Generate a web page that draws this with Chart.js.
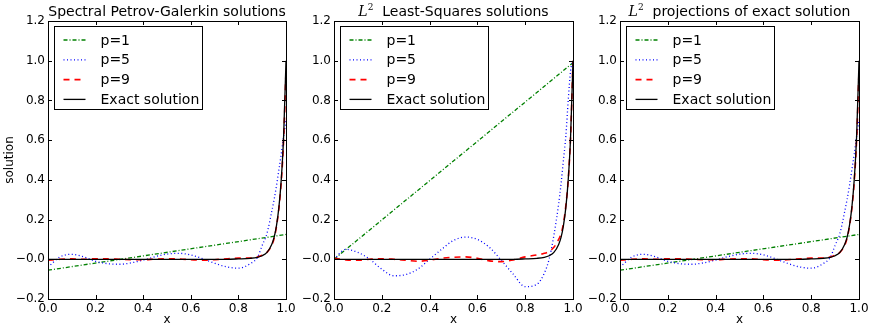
<!DOCTYPE html>
<html>
<head>
<meta charset="utf-8">
<script src="https://cdn.jsdelivr.net/npm/chart.js@4.4.0/dist/chart.umd.min.js"></script>
<style>
  body { margin: 0; background: #fff; }
  #wrap { position: relative; width: 872px; height: 327px; overflow: hidden; }
  canvas { position: absolute; top: 0; }
</style>
</head>
<body>
<div id="wrap">
  <canvas id="c1" width="296" height="327" style="left:0px"></canvas>
  <canvas id="c2" width="296" height="327" style="left:290px"></canvas>
  <canvas id="c3" width="296" height="327" style="left:576px"></canvas>
</div>
<script>
// shared sample points (denser near the boundary layer at x=1)
const xs = [0, 0.05, 0.1, 0.15, 0.2, 0.25, 0.3, 0.35, 0.4, 0.45, 0.5, 0.55, 0.6, 0.65, 0.7, 0.75, 0.8, 0.85, 0.88, 0.9, 0.92, 0.94, 0.95, 0.96, 0.97, 0.98, 0.99, 1.0];
const lineX = [0, 1];

const exact = [0, 0, 0, 0, 0, 0, 0, 0, 0, 0, 0, 0, 0, 0, 0, 0, 0.002, 0.005, 0.01, 0.018, 0.035, 0.075, 0.11, 0.17, 0.26, 0.40, 0.62, 1.0];

// Spectral Petrov-Galerkin
const spgP1 = [-0.055, 0.125];
const spgP5 = [-0.04, 0.012, 0.025, 0.012, -0.01, -0.022, -0.025, -0.018, -0.004, 0.013, 0.026, 0.03, 0.022, 0.003, -0.02, -0.038, -0.045, -0.022, 0.01, 0.07, 0.13, 0.24, 0.3, 0.37, 0.45, 0.53, 0.62, 0.7];
const spgP9 = [-0.005, 0.0, 0.002, 0.0, 0.003, 0.002, 0.0, -0.002, -0.002, 0.001, 0.003, 0.002, -0.002, -0.005, -0.002, 0.002, 0.006, 0.006, 0.012, 0.02, 0.035, 0.07, 0.105, 0.165, 0.255, 0.39, 0.6, 0.95];

// Least-Squares
const lsP1 = [0.0, 0.99];
const lsP5 = [0.0, 0.05, 0.035, 0.0, -0.05, -0.083, -0.077, -0.05, 0.0, 0.05, 0.095, 0.112, 0.1, 0.06, -0.005, -0.075, -0.138, -0.125, -0.07, 0.0, 0.12, 0.28, 0.38, 0.5, 0.62, 0.8, 0.95, 1.0];
const lsP9 = [0.005, -0.003, -0.005, 0.0, 0.003, 0.0, -0.005, -0.01, -0.005, 0.005, 0.01, 0.012, 0.005, -0.008, -0.012, -0.003, 0.012, 0.022, 0.03, 0.04, 0.06, 0.1, 0.13, 0.18, 0.27, 0.4, 0.62, 1.0];

// L2 projections
const projP1 = [-0.055, 0.125];
const projP5 = [-0.04, 0.012, 0.025, 0.012, -0.01, -0.022, -0.025, -0.018, -0.004, 0.013, 0.026, 0.03, 0.022, 0.003, -0.02, -0.038, -0.045, -0.022, 0.01, 0.07, 0.13, 0.24, 0.3, 0.37, 0.45, 0.53, 0.62, 0.7];
const projP9 = [-0.005, 0.0, 0.002, 0.0, 0.003, 0.002, 0.0, -0.002, -0.002, 0.001, 0.003, 0.002, -0.002, -0.005, -0.002, 0.002, 0.006, 0.006, 0.012, 0.02, 0.035, 0.07, 0.105, 0.165, 0.255, 0.39, 0.6, 0.95];

const legendLabels = ['p=1', 'p=5', 'p=9', 'Exact solution'];

Chart.defaults.font.family = '"DejaVu Sans", sans-serif';
Chart.defaults.color = '#000';

const pts = (x, y) => x.map((v, i) => ({ x: v, y: y[i] }));
const fmt = v => { const s = Number(v).toFixed(1); return s.startsWith('-') ? '\u2212' + s.slice(1) : s; };

// frame + inward ticks on all four sides, legend box inside the axes, and the title
const axesDeco = {
    id: 'axesDeco',
    afterDraw(chart, args, opts) {
        const ctx = chart.ctx;
        const a = chart.chartArea;
        const xS = chart.scales.x, yS = chart.scales.y;
        ctx.save();
        ctx.strokeStyle = '#000';
        ctx.lineWidth = 1;
        ctx.strokeRect(Math.round(a.left) + 0.5, Math.round(a.top) + 0.5, Math.round(a.right - a.left), Math.round(a.bottom - a.top));
        ctx.beginPath();
        xS.ticks.forEach(t => {
            const px = Math.round(xS.getPixelForValue(t.value)) + 0.5;
            ctx.moveTo(px, a.bottom); ctx.lineTo(px, a.bottom - 4);
            ctx.moveTo(px, a.top); ctx.lineTo(px, a.top + 4);
        });
        yS.ticks.forEach(t => {
            const py = Math.round(yS.getPixelForValue(t.value)) + 0.5;
            ctx.moveTo(a.left, py); ctx.lineTo(a.left + 4, py);
            ctx.moveTo(a.right, py); ctx.lineTo(a.right - 4, py);
        });
        ctx.stroke();

        // legend
        const lx = Math.round(a.left) + 6.5, ly = Math.round(a.top) + 5.5;
        ctx.fillStyle = '#fff';
        ctx.fillRect(lx, ly, 148, 83);
        ctx.strokeRect(lx, ly, 148, 83);
        ctx.font = '14px "DejaVu Sans"';
        ctx.textBaseline = 'middle';
        chart.data.datasets.forEach((ds, i) => {
            const y = ly + 13.5 + i * 19.8;
            ctx.beginPath();
            ctx.strokeStyle = ds.borderColor;
            ctx.lineWidth = ds.borderWidth;
            ctx.setLineDash(ds.borderDash || []);
            ctx.moveTo(lx + 9, y); ctx.lineTo(lx + 31, y);
            ctx.stroke();
            ctx.setLineDash([]);
            ctx.fillStyle = '#000';
            ctx.fillText(legendLabels[i], lx + 46, y + 1);
        });

        // title (with optional math prefix)
        const parts = opts.parts;
        let w = 0;
        parts.forEach(p => { ctx.font = p.font; w += ctx.measureText(p.text).width; });
        let x = (a.left + a.right) / 2 - w / 2;
        ctx.textBaseline = 'alphabetic';
        ctx.fillStyle = '#000';
        parts.forEach(p => {
            ctx.font = p.font;
            ctx.fillText(p.text, x, 15.5 + (p.dy || 0));
            x += ctx.measureText(p.text).width;
        });
        ctx.restore();
    }
};

function makeChart(id, p1, p5, p9, titleParts, yAxisWidth, rightPad, showYTitle) {
    new Chart(document.getElementById(id), {
        type: 'line',
        data: {
            // lower order is painted on top: exact solution last, like the original
            datasets: [
                { data: pts(lineX, p1), order: 4, borderColor: '#008000', borderWidth: 1.3, borderDash: [4, 2, 1, 2] },
                { data: pts(xs, p5), order: 3, borderColor: '#0000ff', borderWidth: 1.3, borderDash: [1, 2.5], cubicInterpolationMode: 'monotone' },
                { data: pts(xs, p9), order: 2, borderColor: '#ff0000', borderWidth: 1.6, borderDash: [6, 5], cubicInterpolationMode: 'monotone' },
                { data: pts(xs, exact), order: 1, borderColor: '#000000', borderWidth: 1.3, cubicInterpolationMode: 'monotone' }
            ]
        },
        options: {
            responsive: false,
            animation: false,
            layout: { padding: { top: 21, right: rightPad, left: 0, bottom: 0 } },
            elements: { point: { radius: 0 }, line: { fill: false } },
            plugins: {
                legend: { display: false },
                title: { display: false },
                tooltip: { enabled: false },
                axesDeco: { parts: titleParts }
            },
            scales: {
                x: {
                    type: 'linear', min: 0, max: 1,
                    grid: { display: false, drawTicks: false },
                    border: { display: false },
                    ticks: { stepSize: 0.2, padding: 3, font: { size: 12 }, maxRotation: 0, callback: fmt },
                    title: { display: true, text: 'x', font: { size: 12 }, padding: { top: 0, bottom: 0 } },
                    afterFit: s => { s.height = 28; s.paddingLeft = 0; s.paddingRight = 0; }
                },
                y: {
                    type: 'linear', min: -0.2, max: 1.2,
                    grid: { display: false, drawTicks: false },
                    border: { display: false },
                    ticks: { stepSize: 0.2, padding: 3, font: { size: 12 }, callback: fmt },
                    title: { display: showYTitle, text: 'solution', font: { size: 12 }, padding: { top: 3, bottom: 0 } },
                    afterFit: s => { s.width = yAxisWidth; s.paddingTop = 0; s.paddingBottom = 0; }
                }
            }
        },
        plugins: [axesDeco]
    });
}

const sans = '14px "DejaVu Sans"';
const mathL = 'italic 14px "DejaVu Serif"';
const mathSup = '9px "DejaVu Serif"';

makeChart('c1', spgP1, spgP5, spgP9,
    [{ text: 'Spectral Petrov-Galerkin solutions', font: sans }], 48, 10, true);
makeChart('c2', lsP1, lsP5, lsP9,
    [{ text: 'L', font: mathL }, { text: '2', font: mathSup, dy: -6 }, { text: '  Least-Squares solutions', font: sans }], 44, 13, false);
makeChart('c3', projP1, projP5, projP9,
    [{ text: 'L', font: mathL }, { text: '2', font: mathSup, dy: -6 }, { text: '  projections of exact solution', font: sans }], 44, 13, false);
</script>
</body>
</html>
